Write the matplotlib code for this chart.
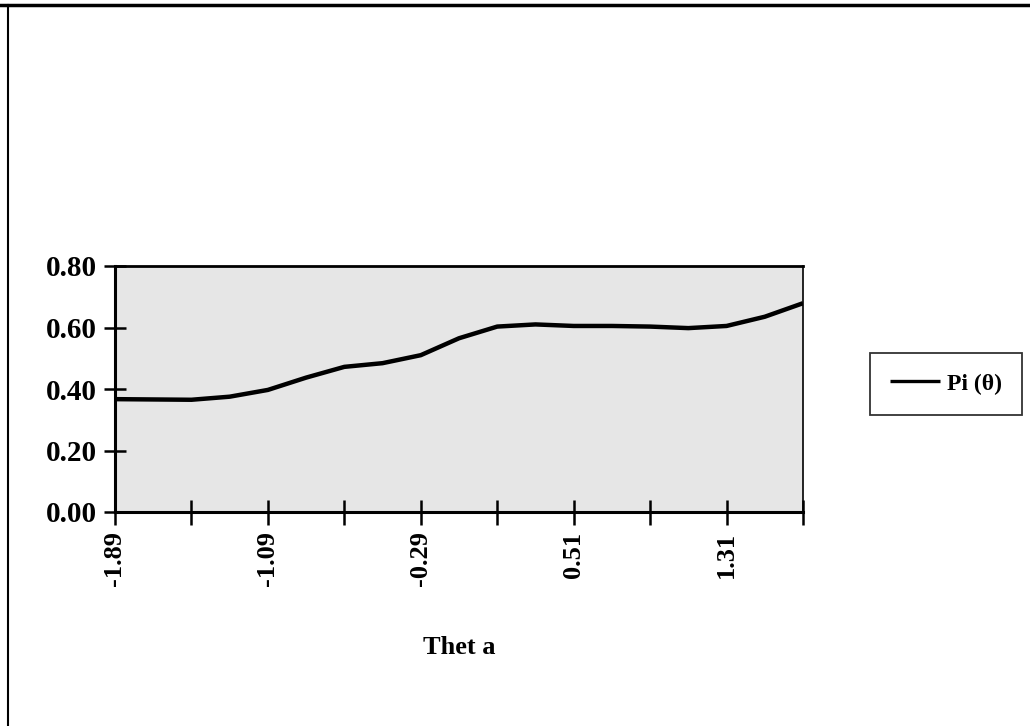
import matplotlib
matplotlib.use("Agg")
import matplotlib.pyplot as plt
import numpy as np

theta = [-1.89, -1.69, -1.49, -1.29, -1.09, -0.89, -0.69, -0.49, -0.29, -0.09,
         0.11, 0.31, 0.51, 0.71, 0.91, 1.11, 1.31, 1.51, 1.71]
pi_theta = [0.367, 0.366, 0.365, 0.375, 0.397, 0.437, 0.472, 0.484, 0.510, 0.565,
            0.603, 0.610, 0.605, 0.605, 0.603, 0.598, 0.605, 0.635, 0.679]
x_ticks = [-1.89, -1.49, -1.09, -0.69, -0.29, 0.11, 0.51, 0.91, 1.31, 1.71]
x_labels = ["-1.89", "", "-1.09", "", "-0.29", "", "0.51", "", "1.31", ""]
y_ticks = [0.0, 0.2, 0.4, 0.6, 0.8]
y_labels = ["0.00", "0.20", "0.40", "0.60", "0.80"]

plt.rcParams['font.family'] = ['Liberation Serif', 'DejaVu Serif']
W, H = 1030, 726
fig = plt.figure(figsize=(W / 100, H / 100), dpi=100)
ax = fig.add_axes([115 / W, (H - 512) / H, (803 - 115) / W, (512 - 266) / H])
ax.set_facecolor('#e6e6e6')
line, = ax.plot(theta, pi_theta, color='black', lw=3.2, solid_capstyle='butt',
                label='Pi (θ)')
ax.set_xlim(-1.89, 1.71)
ax.set_ylim(0, 0.8)
ax.set_xticks(x_ticks)
ax.set_xticklabels(x_labels, rotation=90, fontsize=19, fontweight='bold')
ax.set_yticks(y_ticks)
ax.set_yticklabels(y_labels, fontsize=21, fontweight='bold')
ax.tick_params(axis='x', direction='inout', length=18, width=1.8, pad=5)
ax.tick_params(axis='y', direction='inout', length=16, width=1.8, pad=5)
for s in ['left', 'bottom']:
    ax.spines[s].set_linewidth(2.2)
ax.spines['top'].set_linewidth(2.0)
ax.spines['right'].set_linewidth(1.2)
ax.set_xlabel('Thet a', fontsize=19, fontweight='bold', labelpad=36)

leg = fig.legend(handles=[line], loc='center left', bbox_to_anchor=(870 / W, 1 - 384 / H),
                 frameon=True, fancybox=False, handlelength=2.1,
                 handletextpad=0.3, borderpad=0.85, borderaxespad=0,
                 prop={'weight': 'bold', 'size': 17})
leg.get_frame().set_edgecolor('black')
leg.get_frame().set_linewidth(1.3)
for h in leg.legend_handles:
    h.set_linewidth(2.4)

# outer chart frame (top and left)
fig.add_artist(plt.Line2D([0, 1], [1 - 5 / H, 1 - 5 / H], transform=fig.transFigure,
                          color='black', lw=2.5))
fig.add_artist(plt.Line2D([8 / W, 8 / W], [1 - 5 / H, 0], transform=fig.transFigure,
                          color='black', lw=1.5))

fig.savefig('out.png', dpi=100, facecolor='white')
